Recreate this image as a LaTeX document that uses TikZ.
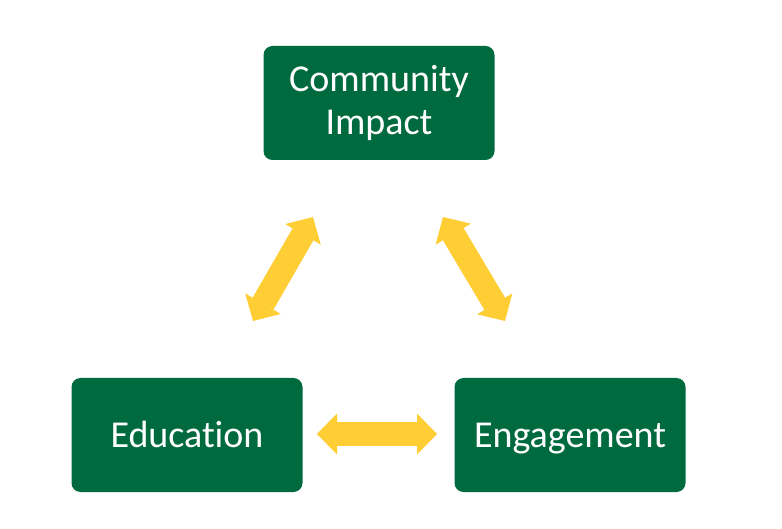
\documentclass[tikz,border=0pt]{standalone}
\usepackage{fontspec}
\setmainfont{Carlito}[Ligatures=NoCommon]
\usetikzlibrary{arrows.meta}
\definecolor{boxgreen}{HTML}{006A3F}
\definecolor{arrowyellow}{HTML}{FFCD34}
\begin{document}
\begin{tikzpicture}[x=1pt,y=1pt,
  box/.style={fill=boxgreen, draw=none, rounded corners=9pt, text=white,
    minimum width=231pt, minimum height=114pt, align=center, inner sep=0pt,
    font=\fontsize{38}{43}\selectfont},
  onebox/.style={box, text height=30pt, text depth=6pt},
  link/.style={draw=arrowyellow, line width=24pt,
    {Triangle[length=20pt,width=41pt,line width=0pt,fill=arrowyellow]}-{Triangle[length=20pt,width=41pt,line width=0pt,fill=arrowyellow]}}
]
\useasboundingbox (0,0) rectangle (782,528);
\node[box] (impact) at (379,425) {Community\\Impact};
\node[onebox] (edu) at (187,93) {Education};
\node[onebox] (eng) at (570,93) {Engagement};
\coordinate (h1) at (317,94);
\coordinate (h2) at (437,94);
\coordinate (l1) at (253,207);
\coordinate (l2) at (313,311);
\coordinate (r1) at (443,311);
\coordinate (r2) at (505,207);
\draw[link] (h1) -- (h2);
\draw[link] (l1) -- (l2);
\draw[link] (r1) -- (r2);
\end{tikzpicture}
\end{document}
